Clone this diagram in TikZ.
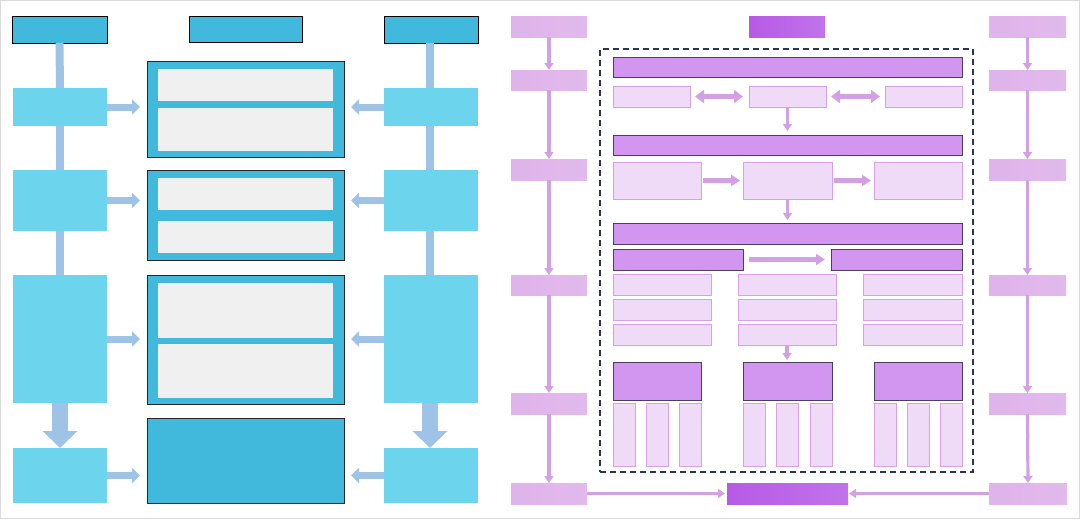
\documentclass[tikz,border=0pt]{standalone}
\usetikzlibrary{arrows.meta}
\definecolor{dblue}{HTML}{41B9DC}
\definecolor{lblue}{HTML}{6CD5ED}
\definecolor{ablue}{HTML}{9EC3E6}
\definecolor{igray}{HTML}{F0F0F0}
\definecolor{lpur}{HTML}{DFB3EB}
\definecolor{apur}{HTML}{D4A0E4}
\definecolor{mpur}{HTML}{D295F0}
\definecolor{bpur}{HTML}{4A3F63}
\definecolor{vpur}{HTML}{EFDBF8}
\definecolor{vbord}{HTML}{D89FEB}
\definecolor{hpur}{HTML}{B65AE6}
\definecolor{navy}{HTML}{2B3450}
\definecolor{frame}{HTML}{DADADA}
\tikzset{
  base/.style={inner sep=0pt, outer sep=0pt},
  hdr/.style={base, fill=dblue, draw=black, line width=0.8pt},
  lbox/.style={base, fill=lblue},
  cbox/.style={base, fill=dblue, draw=black!85, line width=0.8pt},
  ibox/.style={base, fill=igray},
  bline/.style={draw=ablue, line width=8pt},
  barrow/.style={draw=ablue, line width=7pt, -{Triangle[width=15pt,length=8pt]}},
  fatarrow/.style={draw=ablue, line width=16pt, -{Triangle[width=34pt,length=17pt]}},
  pcol/.style={base, left color=lpur, right color=lpur!92!white},
  phead/.style={base, left color=hpur, right color=hpur!85!white},
  mbar/.style={base, fill=mpur, draw=bpur, line width=0.8pt},
  vbox/.style={base, fill=vpur, draw=vbord, line width=0.8pt},
  dashbox/.style={base, draw=navy, line width=1.5pt, dash pattern=on 6pt off 4pt},
  parrow/.style={draw=apur, line width=3.2pt, -{Triangle[width=9pt,length=7pt]}},
  dbl/.style={draw=apur, line width=5pt, {Triangle[width=13pt,length=9pt]}-{Triangle[width=13pt,length=9pt]}},
  harr/.style={draw=apur, line width=4.5pt, -{Triangle[width=11pt,length=9pt]}},
}
\newcommand\bx[6]{\node[#1, anchor=north west, minimum width={#5-#3}, minimum height={#6-#4}] (#2) at (#3,#4) {};}
\begin{document}
\begin{tikzpicture}[x=1pt,y=-1pt]
\useasboundingbox (0,0) rectangle (1080,520);
\draw[frame, line width=1pt] (0.5,0.8) rectangle (1079.3,518.5);
% ---------- left panel ----------
\bx{hdr}{LH}{12}{16}{107}{43}
\bx{hdr}{CH}{189}{16}{302}{42}
\bx{hdr}{RH}{384}{16}{478}{43}
\bx{lbox}{L1}{13}{88}{107}{126}
\bx{lbox}{L2}{13}{170}{107}{231}
\bx{lbox}{L3}{13}{275}{107}{403}
\bx{lbox}{L4}{13}{448}{107}{503}
\bx{lbox}{R1}{384}{88}{478}{126}
\bx{lbox}{R2}{384}{170}{478}{231}
\bx{lbox}{R3}{384}{275}{478}{403}
\bx{lbox}{R4}{384}{448}{478}{503}
\bx{cbox}{C1}{147}{61}{344}{157}
\bx{ibox}{C1a}{158}{69}{333}{101}
\bx{ibox}{C1b}{158}{108}{333}{151}
\bx{cbox}{C2}{147}{170}{344}{260}
\bx{ibox}{C2a}{158}{178}{333}{210}
\bx{ibox}{C2b}{158}{221}{333}{253}
\bx{cbox}{C3}{147}{275}{344}{404}
\bx{ibox}{C3a}{158}{283}{333}{338}
\bx{ibox}{C3b}{158}{344}{333}{398}
\bx{cbox}{C4}{147}{418}{344}{503}
% connectors left
\draw[bline] (LH.south) -- (L1.north);
\draw[bline] (L1.south) -- (L2.north);
\draw[bline] (L2.south) -- (L3.north);
\draw[fatarrow] (L3.south) -- (L4.north);
\draw[bline] ([xshift=-1pt]RH.south) -- ([xshift=-1pt]R1.north);
\draw[bline] ([xshift=-1pt]R1.south) -- ([xshift=-1pt]R2.north);
\draw[bline] ([xshift=-1pt]R2.south) -- ([xshift=-1pt]R3.north);
\draw[fatarrow] ([xshift=-1pt]R3.south) -- ([xshift=-1pt]R4.north);
\foreach \a/\b in {L1/C1,L2/C2,L3/C3,L4/C4}{
  \draw[barrow, shorten >=7pt] (\a.east) -- (\a.east -| \b.west);
}
\foreach \a/\b in {R1/C1,R2/C2,R3/C3,R4/C4}{
  \draw[barrow, shorten >=7pt] (\a.west) -- (\a.west -| \b.east);
}
% ---------- right panel ----------
\bx{pcol}{PL1}{511}{16}{587}{37}
\bx{pcol}{PL2}{511}{70}{587}{90}
\bx{pcol}{PL3}{511}{159}{587}{180}
\bx{pcol}{PL4}{511}{275}{587}{295}
\bx{pcol}{PL5}{511}{393}{587}{414}
\bx{pcol}{PL6}{511}{483}{587}{504}
\bx{pcol}{PR1}{989}{16}{1066}{37}
\bx{pcol}{PR2}{989}{70}{1066}{90}
\bx{pcol}{PR3}{989}{159}{1066}{180}
\bx{pcol}{PR4}{989}{275}{1066}{295}
\bx{pcol}{PR5}{989}{393}{1066}{414}
\bx{pcol}{PR6}{989}{483}{1067}{504}
\bx{phead}{PH}{749}{16}{825}{37}
\bx{phead}{PB}{727}{483}{848}{504}
\bx{dashbox}{DR}{600}{49}{973}{472}
% rows
\bx{mbar}{B1}{613}{57}{962}{77}
\bx{vbox}{B2a}{613}{86}{690}{107}
\bx{vbox}{B2b}{749}{86}{826}{107}
\bx{vbox}{B2c}{885}{86}{962}{107}
\bx{mbar}{B3}{613}{135}{962}{155}
\bx{vbox}{B4a}{613}{162}{701}{199}
\bx{vbox}{B4b}{743}{162}{832}{199}
\bx{vbox}{B4c}{874}{162}{962}{199}
\bx{mbar}{B5}{613}{223}{962}{244}
\bx{mbar}{B6a}{613}{249}{743}{270}
\bx{mbar}{B6b}{831}{249}{962}{270}
\foreach \r/\ya/\yb in {1/274/295,2/299/320,3/324/345}{
  \bx{vbox}{G\r a}{613}{\ya}{711}{\yb}
  \bx{vbox}{G\r b}{738}{\ya}{836}{\yb}
  \bx{vbox}{G\r c}{863}{\ya}{962}{\yb}
}
\bx{mbar}{K1}{613}{362}{701}{400}
\bx{mbar}{K2}{743}{362}{832}{400}
\bx{mbar}{K3}{874}{362}{962}{400}
\foreach \n/\xa in {1/613,2/646,3/679,4/743,5/776,6/810,7/874,8/907,9/940}{
  \pgfmathsetmacro\xb{\xa+22}
  \bx{vbox}{T\n}{\xa}{403}{\xb}{466}
}
% purple connectors
\draw[parrow] (PL1.south) -- (PL2.north);
\draw[parrow] (PL2.south) -- (PL3.north);
\draw[parrow] (PL3.south) -- (PL4.north);
\draw[parrow] (PL4.south) -- (PL5.north);
\draw[parrow] (PL5.south) -- (PL6.north);
\draw[parrow] (PR1.south) -- (PR2.north);
\draw[parrow] (PR2.south) -- (PR3.north);
\draw[parrow] (PR3.south) -- (PR4.north);
\draw[parrow] (PR4.south) -- (PR5.north);
\draw[parrow] (PR5.south) -- (PR6.north);
\draw[parrow, shorten >=2pt] (PL6.east) -- (PB.west);
\draw[parrow, shorten >=1pt] (PR6.west) -- (PB.east);
\draw[dbl, shorten <=5pt, shorten >=6pt] (B2a.east) -- (B2b.west);
\draw[dbl, shorten <=5pt, shorten >=5pt] (B2b.east) -- (B2c.west);
\draw[harr, shorten <=2pt, shorten >=3pt] (B4a.east) -- (B4b.west);
\draw[harr, shorten <=2pt, shorten >=3pt] (B4b.east) -- (B4c.west);
\draw[harr, shorten <=6pt, shorten >=6pt] (B6a.east) -- (B6b.west);
\draw[parrow, shorten >=4pt] (B2b.south) -- (B2b.south |- B3.north);
\draw[parrow, shorten >=3pt] (B4b.south) -- (B4b.south |- B5.north);
\draw[parrow, shorten >=2pt] (G3b.south) -- (G3b.south |- K2.north);
\end{tikzpicture}
\end{document}
